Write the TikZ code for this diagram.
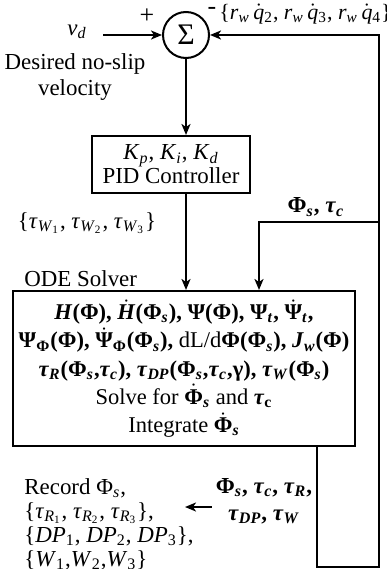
\documentclass[tikz,border=0pt]{standalone}
\usepackage{amsmath}
\usepackage{fontspec}
\setmainfont{Liberation Serif}
\usepackage{tikz}
\usetikzlibrary{arrows.meta,positioning}
\newcommand{\dt}[1]{$\dot{\text{#1}}$}
\newcommand{\Phis}{Φ\textsubscript{\textit{s}}}
\newcommand{\taui}[1]{\textit{τ}\textsubscript{\textit{#1}}}
\newcommand{\wheelrate}[1]{\textit{r}\textsubscript{\textit{w}}\,\dt{\textit{q}}\textsubscript{#1}}
\tikzset{
  sumnode/.style={
    draw,
    circle,
    line width=1bp,
    minimum size=23bp,
    inner sep=0pt,
    font=\fontsize{15}{15}\selectfont
  },
  ctrlbox/.style={
    draw,
    line width=1bp,
    align=center,
    minimum width=79bp,
    minimum height=28.5bp,
    inner sep=2pt,
    font=\fontsize{11.5}{12}\selectfont
  },
  solverbox/.style={
    draw,
    line width=1bp,
    align=center,
    minimum width=171bp,
    minimum height=77.5bp,
    inner sep=2pt,
    font=\fontsize{11.3}{14.2}\selectfont\bfseries
  },
  lbl/.style={
    inner sep=2bp,
    align=center,
    font=\fontsize{11.5}{13.5}\selectfont
  },
  sig/.style={
    -{Stealth[length=5.5bp,width=4.5bp,inset=1.5bp]},
    line width=1bp
  }
}
\begin{document}
\begin{tikzpicture}[x=0.5bp,y=-0.5bp]
  \useasboundingbox (0,0) rectangle (387,569);
  \node[sumnode] (sum) at (186,35) {Σ};
  \node[lbl] (vd) at (77,32) {\textit{v}\textsubscript{\textit{d}}};
  \node[lbl] (desired) at (75,77) {Desired no-slip\\velocity};
  \node[lbl, font=\fontsize{13}{13}\selectfont] (plus) at (147,16) {+};
  \node[lbl, font=\fontsize{13}{13}\selectfont] (minus) at (212,11) {-};
  \node[lbl, anchor=west, font=\fontsize{11}{13}\selectfont] (fblabel) at (215,14) {\{\wheelrate{2}, \wheelrate{3}, \wheelrate{4}\}};
  \node[ctrlbox] (pid) at (171,164.5) {\textit{K}\textsubscript{\textit{p}}, \textit{K}\textsubscript{\textit{i}}, \textit{K}\textsubscript{\textit{d}}\\PID Controller};
  \node[lbl] (torques) at (87,223) {\{\textit{τ}\textsubscript{\textit{W}\textsubscript{1}}, \textit{τ}\textsubscript{\textit{W}\textsubscript{2}}, \textit{τ}\textsubscript{\textit{W}\textsubscript{3}}\}};
  \node[lbl, anchor=west] (odelabel) at (20,279) {ODE Solver};
  \node[solverbox] (ode) at (184,368.5) {
    \textit{H}(Φ), \dt{\textit{H}}(\Phis), Ψ(Φ), Ψ\textsubscript{\textit{t}}, \dt{Ψ}\textsubscript{\textit{t}},\\
    Ψ\textsubscript{Φ}(Φ), \dt{Ψ}\textsubscript{Φ}(\Phis), {\mdseries dL/d}Φ(\Phis), \textit{J}\textsubscript{\textit{w}}(Φ)\\
    \taui{R}(\Phis,\taui{c}), \taui{DP}(\Phis,\taui{c},γ), \taui{W}(\Phis)\\
    {\mdseries Solve for} \dt{Φ}\textsubscript{\textit{s}} {\mdseries and} \textit{τ}\textsubscript{c}\\
    {\mdseries Integrate} \dt{Φ}\textsubscript{\textit{s}}};
  \node[lbl, font=\fontsize{11.5}{13.5}\selectfont\bfseries] (statelabel) at (316,207) {\Phis, \taui{c}};
  \node[lbl, anchor=north west, align=left, font=\fontsize{11.5}{12}\selectfont] (record) at (20,474) {Record \Phis,\\
    \{\textit{τ}\textsubscript{\textit{R}\textsubscript{1}}, \textit{τ}\textsubscript{\textit{R}\textsubscript{2}}, \textit{τ}\textsubscript{\textit{R}\textsubscript{3}}\},\\
    \{\textit{DP}\textsubscript{1}, \textit{DP}\textsubscript{2}, \textit{DP}\textsubscript{3}\},\\
    \{\textit{W}\textsubscript{1},\textit{W}\textsubscript{2},\textit{W}\textsubscript{3}\}};
  \node[lbl, font=\fontsize{11.5}{13.5}\selectfont\bfseries] (outputs) at (264,501) {\Phis, \taui{c}, \taui{R},\\\taui{DP}, \taui{W}};

  % feedback loop corners
  \coordinate (loopB) at (317,567);
  \coordinate (loopC) at (379,567);
  \coordinate (tap) at (379,222);
  \coordinate (drop) at (259,222);
  \coordinate (recin) at (185,507);

  \draw[sig] ([xshift=6bp]vd.east |- sum) -- (sum.west);
  \draw[sig] (sum.south) -- (sum.south |- pid.north);
  \draw[sig] (pid.south -| sum) -- (ode.north -| sum);
  \draw[sig] (ode.south -| loopB) -- (loopB) -- (loopC) -- (loopC |- sum) -- (sum.east);
  \draw[sig] (tap) -- (drop) -- (drop |- ode.north);
  \draw[sig] (outputs.west |- recin) -- (recin);
\end{tikzpicture}
\end{document}
